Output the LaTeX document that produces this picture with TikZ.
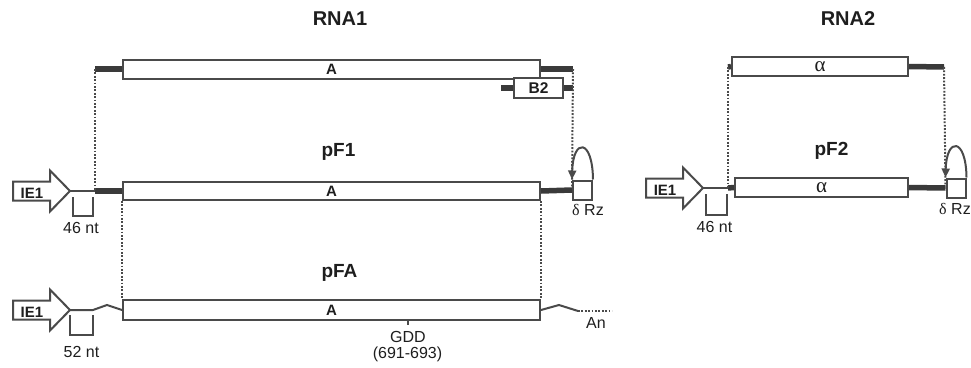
\documentclass[tikz,border=0pt]{standalone}
\usepackage{fontspec}
\setmainfont{Liberation Sans}
\newfontfamily\grk{Liberation Serif}
\usetikzlibrary{arrows.meta}
\definecolor{lc}{HTML}{4A4A4A}
\definecolor{tc}{HTML}{3A3A3A}
\definecolor{txt}{HTML}{1E1E1E}
\tikzset{
  gen/.style={draw=lc, line width=2pt, fill=white, minimum height=19pt, inner sep=0pt, text=txt, font=\bfseries\fontsize{15}{15}\selectfont},
  rzbox/.style={draw=lc, line width=2pt, fill=white, minimum height=19pt, minimum width=19pt, inner sep=0pt},
  thickln/.style={line width=5.5pt, draw=tc},
  thinln/.style={line width=2pt, draw=lc},
  dotln/.style={line width=2pt, draw=lc, dash pattern=on 1.8pt off 1.6pt},
  ttl/.style={font=\bfseries\fontsize{20}{20}\selectfont, text=txt, anchor=base, inner sep=0pt},
  sttl/.style={font=\bfseries\fontsize{19}{19}\selectfont, text=txt, anchor=base, inner sep=0pt},
  lab/.style={font=\fontsize{16}{16}\selectfont, text=txt, inner sep=0pt, anchor=base},
  loopln/.style={line width=2pt, draw=lc, -{Triangle[length=9pt,width=8pt]}},
  iearr/.pic={
    \draw[line width=2pt, draw=lc, fill=white] (-57,-9.5) -- (-20,-9.5) -- (-20,-20.5) -- (0,0) -- (-20,20.5) -- (-20,9.5) -- (-57,9.5) -- cycle;
    \node[font=\bfseries\fontsize{15}{15}\selectfont, text=txt, inner sep=0pt, anchor=base] (-lbl) at (-38,7) {IE1};
    \coordinate (-tip) at (0,0);
  }
}
\begin{document}
\begin{tikzpicture}[x=1pt,y=-1pt]
\useasboundingbox (0,0) rectangle (971,367);

% titles
\node[ttl] (tR1) at (340,25) {RNA1};
\node[ttl] (tR2) at (848,25) {RNA2};
\node[sttl] (tF1) at (338.5,156) {pF1};
\node[sttl] (tFA) at (339.5,277) {pFA};
\node[sttl] (tF2) at (831.5,155) {pF2};

% ---------------- RNA1 ----------------
\coordinate (r1s) at (95,69);
\coordinate (r1e) at (573,69);
\node[gen, minimum width=417pt] (rA) at (331.5,69) {A};
\draw[thickln] (r1s) -- (rA.west);
\draw[thickln] (rA.east) -- (r1e);
\node[gen, minimum width=49pt, minimum height=20pt, font=\bfseries\fontsize{15.5}{15.5}\selectfont] (B2) at (538.5,88) {B2};
\coordinate (b2s) at (501,88);
\coordinate (b2e) at (573,88);
\draw[thickln] (b2s) -- (B2.west);
\draw[thickln] (B2.east) -- (b2e);

% ---------------- pF1 ----------------
\pic (ieA) at (70,191) {iearr};
\coordinate (p1j) at (95,191);
\node[gen, minimum width=417pt, minimum height=18pt] (pA) at (331.5,191) {A};
\node[rzbox] (rz1) at (582.5,190) {};
\draw[thinln] (ieA-tip) -- (p1j);
\draw[thickln] (p1j) -- (pA.west);
\draw[thickln] (pA.east) -- (rz1.west);
\draw[dotln] (r1s) -- (p1j);
\draw[dotln] (r1e) -- ([yshift=-8pt]rz1.north west);
\draw[loopln] (rz1.north east) .. controls (592.5,138) and (573,138) .. (rz1.north west);
\node[lab] (dz1) at (588,215) {{\grk δ} Rz};
\coordinate (k1a) at (73,197);
\coordinate (k1b) at (93,197);
\draw[thinln] (k1a) -- ++(0,19) -| (k1b);
\node[lab] (n46a) at (81,233) {46 nt};

% ---------------- pFA ----------------
\pic (ieB) at (70,310) {iearr};
\node[gen, minimum width=417pt, minimum height=20pt] (fA) at (331.5,310) {A};
\draw[thinln] (ieB-tip) -- (93,310) -- (107,305) -- (fA.west);
\coordinate (ta) at (578,311);
\coordinate (tb) at (612,311);
\draw[thinln] (fA.east) -- (559,305) -- (ta);
\draw[dotln] (ta) -- (tb);
\node[lab] (an) at (596,328) {An};
\draw[dotln] (pA.south west) -- (fA.north west);
\draw[dotln] (pA.south east) -- (fA.north east);
\coordinate (k2a) at (70,315);
\coordinate (k2b) at (93,315);
\draw[thinln] (k2a) -- ++(0,20) -| (k2b);
\node[lab] (n52) at (81.5,357) {52 nt};
\coordinate (gdd) at (408,320);
\draw[thinln] (gdd) -- ++(0,5);
\node[lab] (gddl) at (408,342) {GDD};
\node[lab] (gddn) at (407.5,358) {(691-693)};

% ---------------- RNA2 ----------------
\coordinate (r2s) at (728,67);
\coordinate (r2e) at (944,67);
\node[gen, minimum width=176pt, font=\grk\fontsize{21}{21}\selectfont] (ra) at (820,66.5) {α};
\draw[thickln] (r2s) -- (ra.west);
\draw[thickln] (ra.east) -- (r2e);

% ---------------- pF2 ----------------
\pic (ieC) at (703,188) {iearr};
\coordinate (p2j) at (728,188);
\node[gen, minimum width=173pt, font=\grk\fontsize{21}{21}\selectfont] (pa) at (821.5,187.5) {α};
\node[rzbox] (rz2) at (956,188) {};
\draw[thinln] (ieC-tip) -- (p2j);
\draw[thickln] (p2j) -- (pa.west);
\draw[thickln] (pa.east) -- (rz2.west);
\draw[dotln] (r2s) -- (p2j);
\draw[dotln] (r2e) -- ([yshift=-8pt]rz2.north west);
\draw[loopln] (rz2.north east) .. controls (966,137) and (946.5,137) .. (rz2.north west);
\node[lab] (dz2) at (955,214) {{\grk δ} Rz};
\coordinate (k3a) at (706,194);
\coordinate (k3b) at (727,194);
\draw[thinln] (k3a) -- ++(0,21) -| (k3b);
\node[lab] (n46b) at (714.5,232) {46 nt};
\end{tikzpicture}
\end{document}
